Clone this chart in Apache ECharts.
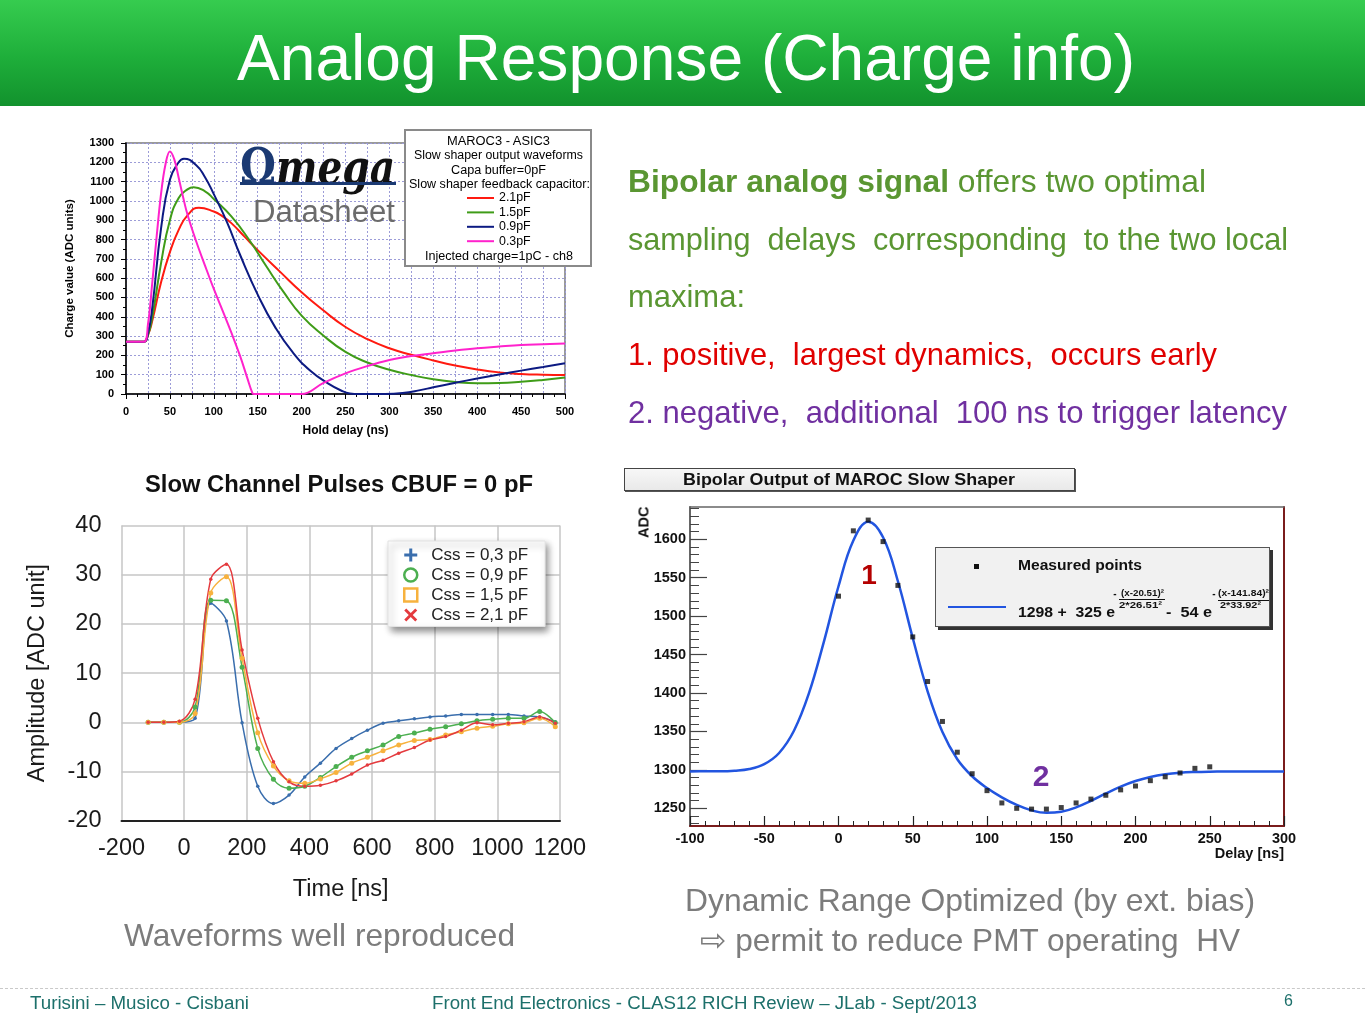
<!DOCTYPE html>
<html><head><meta charset="utf-8">
<script src="https://cdn.jsdelivr.net/npm/echarts@6/dist/echarts.min.js"></script>
<style>
html,body{margin:0;padding:0;background:#fff;}
#page{position:relative;width:1365px;height:1024px;overflow:hidden;background:#fff;font-family:"Liberation Sans",Arial,sans-serif;}
#chart{position:absolute;left:0;top:0;width:1365px;height:1024px;}
.t{position:absolute;white-space:nowrap;}
#band{position:absolute;left:0;top:0;width:1365px;height:106px;background:linear-gradient(#36cc4f,#1eae3a 55%,#12922d);}
.box{position:absolute;box-sizing:border-box;}
</style></head><body><div id="page"><div id="band"></div><div id="chart"></div></div>
<script>
// ---------- Chart 1 data (MAROC3 datasheet) : [hold delay ns, ADC] ----------
const pf21 = [[0,270],[20,270],[25,305],[30,380],[40,580],[50,735],[60,850],[70,925],[83,965],[100,945],[110,920],[120,885],[135,815],[150,745],[175,635],[200,527],[225,432],[250,347],[275,284],[300,237],[325,203],[350,174],[375,148],[400,127],[425,112],[450,104],[475,100],[500,98]];
const pf15 = [[0,270],[20,270],[25,305],[30,400],[40,680],[50,900],[60,1015],[70,1060],[77,1071],[90,1050],[100,1010],[120,920],[140,800],[160,660],[180,525],[200,406],[225,302],[250,218],[275,163],[300,126],[325,98],[350,76],[375,62],[400,56],[425,57],[450,63],[475,73],[500,86]];
const pf09 = [[0,270],[20,270],[25,315],[30,450],[40,860],[50,1110],[60,1200],[66,1218],[80,1185],[90,1123],[100,1035],[115,890],[130,720],[150,515],[170,345],[190,215],[210,120],[230,55],[245,18],[255,3],[265,0],[295,0],[315,5],[335,20],[350,35],[375,58],[400,80],[425,101],[450,121],[475,140],[500,159]];
const pf03 = [[0,270],[20,270],[25,360],[30,580],[35,820],[40,1040],[45,1190],[50,1256],[55,1215],[60,1120],[65,1020],[70,930],[80,790],[90,665],[100,544],[110,432],[120,318],[130,196],[138,85],[144,5],[146,0],[170,0],[200,0],[225,58],[250,107],[275,145],[300,176],[325,197],[350,211],[375,225],[400,237],[425,246],[450,254],[475,258],[500,262]];
const names1 = ['2.1pF','1.5pF','0.9pF','0.3pF'];

// ---------- Chart 2 data (Slow channel pulses) ----------
const time2 = [-115,-65,-15,35,85,135,185,235,285,335,385,435,485,535,585,635,685,735,785,835,885,935,985,1035,1085,1135,1185];
const css03 = [0,0,0,0.8,24.2,20.6,-0.1,-13.0,-16.5,-14.8,-11.1,-8.3,-5.3,-3.3,-1.6,-0.2,0.3,0.7,1.1,1.3,1.6,1.6,1.6,1.6,1.3,1.1,0.1];
const css09 = [0,0,0,3.1,24.8,24.7,11.2,-5.3,-11.6,-13.4,-13.0,-11.2,-9.0,-7.1,-5.8,-4.6,-2.9,-2.2,-1.4,-0.9,-0.3,0.3,0.6,0.8,0.8,2.2,-0.1];
const css15 = [0,0,0,1.8,26.3,29.6,13.0,-2.1,-8.9,-11.9,-12.4,-11.5,-10.2,-8.3,-7.1,-5.8,-4.6,-3.7,-3.5,-2.6,-1.9,-1.2,-0.8,-0.3,-0.1,0.8,-0.9];
const css21 = [0,0,0.2,4.7,29.1,32.1,14.7,0.8,-8.0,-12.1,-13.0,-12.8,-11.9,-10.5,-8.7,-7.7,-6.3,-5.1,-3.6,-2.9,-1.6,-0.1,-0.5,-0.2,0.1,1.1,-0.2];
const names2 = ['Css = 0,3 pF','Css = 0,9 pF','Css = 1,5 pF','Css = 2,1 pF'];

// ---------- Chart 3 data (Bipolar output) ----------
const delayPts = [0,10,20,30,40,50,60,70,80,90,100,110,120,130,140,150,160,170,180,190,200,210,220,230,240,250];
const adcPts = [1526,1611,1625,1597,1540,1473,1415,1363,1323,1295,1273,1257,1250,1249,1249,1251,1257,1262,1267,1274,1279,1286,1291,1296,1302,1304];
const delayFit = [-100,-90,-80,-70,-60,-50,-40,-30,-20,-10,0,10,20,30,40,50,60,70,80,90,100,110,120,130,140,150,160,170,180,190,200,210,220,230,240,250,260,270,280,290,300];
const adcFit = [1298.0,1298.1,1298.2,1299.0,1301.2,1307.5,1322.0,1350.9,1399.1,1465.6,1538.9,1598.4,1622.9,1602.6,1545.4,1471.6,1402.3,1349.2,1313.9,1291.7,1276.4,1264.3,1254.4,1247.3,1244.1,1245.5,1251.2,1259.7,1269.3,1278.3,1285.6,1290.8,1294.2,1296.2,1297.2,1297.7,1297.9,1298.0,1298.0,1298.0,1298.0];
const adcTicks = [1250,1300,1350,1400,1450,1500,1550,1600];
const adcMinor = [1230,1240,1260,1270,1280,1290,1310,1320,1330,1340,1360,1370,1380,1390,1410,1420,1430,1440,1460,1470,1480,1490,1510,1520,1530,1540,1560,1570,1580,1590,1610,1620,1630,1640];

const FF = '"Liberation Sans", Arial, sans-serif';
const zip = (xs, ys) => xs.map((x, i) => [x, ys[i]]);
const plain = v => String(v);

const c1 = ['#ff1a10', '#3f9c18', '#0c1a82', '#ff22cc'];
const c2 = ['#3a6ead', '#4caf50', '#f7b23e', '#e43a3e'];

const chart = echarts.init(document.getElementById('chart'));
chart.setOption({
  animation: false,
  backgroundColor: 'transparent',
  textStyle: {fontFamily: FF},
  grid: [
    {left: 126, top: 143, width: 439, height: 251, show: true, borderColor: '#9a9a9a', borderWidth: 2, backgroundColor: 'transparent'},
    {left: 121.5, top: 525.5, width: 438.5, height: 295.2},
    {left: 690, top: 507, width: 594, height: 319}
  ],
  xAxis: [
    {gridIndex: 0, type: 'value', min: 0, max: 500, interval: 25,
     axisLine: {show: true, onZero: false, lineStyle: {color: '#000', width: 1.5}},
     axisTick: {show: true, length: 5, lineStyle: {color: '#000'}},
     minorTick: {show: true, splitNumber: 2, length: 3, lineStyle: {color: '#000'}},
     axisLabel: {formatter: v => (v % 50 === 0 ? String(v) : ''), fontSize: 11, fontWeight: 'bold', color: '#000', margin: 12},
     splitLine: {show: true, lineStyle: {color: '#9c9cd8', type: [2, 2], width: 1}},
     name: 'Hold delay (ns)', nameLocation: 'middle', nameGap: 31,
     nameTextStyle: {fontSize: 12, fontWeight: 'bold', color: '#000'}},
    {gridIndex: 1, type: 'value', min: -200, max: 1200, interval: 200,
     axisLine: {show: true, onZero: false, lineStyle: {color: '#222', width: 2}},
     axisTick: {show: false},
     axisLabel: {formatter: plain, fontSize: 23.5, color: '#1a1a1a', margin: 16},
     splitLine: {show: true, lineStyle: {color: '#c6c6c6', width: 1.5}},
     name: 'Time [ns]', nameLocation: 'middle', nameGap: 57,
     nameTextStyle: {fontSize: 23.5, color: '#1a1a1a'}},
    {gridIndex: 2, type: 'value', min: -100, max: 300, interval: 50,
     axisLine: {show: true, onZero: false, lineStyle: {color: '#7a1c1c', width: 2}},
     axisTick: {show: true, inside: true, length: 10, lineStyle: {color: '#222', width: 1.2}},
     minorTick: {show: true, splitNumber: 5, length: 5, lineStyle: {color: '#222'}},
     axisLabel: {formatter: plain, fontSize: 14.5, fontWeight: 'bold', color: '#111', margin: 5},
     splitLine: {show: false},
     name: 'Delay [ns]', nameLocation: 'end', nameGap: 0,
     nameTextStyle: {align: 'right', verticalAlign: 'top', padding: [20, 0, 0, 0], fontSize: 14.5, fontWeight: 'bold', color: '#111'}},
    {gridIndex: 2, type: 'value', position: 'top', min: -100, max: 300,
     axisLine: {show: true, onZero: false, lineStyle: {color: '#666', width: 1.5}},
     axisTick: {show: false}, axisLabel: {show: false}, splitLine: {show: false}}
  ],
  yAxis: [
    {gridIndex: 0, type: 'value', min: 0, max: 1300, interval: 100,
     axisLine: {show: true, onZero: false, lineStyle: {color: '#000', width: 1.5}},
     axisTick: {show: true, length: 5, lineStyle: {color: '#000'}},
     minorTick: {show: true, splitNumber: 2, length: 3, lineStyle: {color: '#000'}},
     axisLabel: {formatter: plain, fontSize: 11, fontWeight: 'bold', color: '#000', margin: 12},
     splitLine: {show: true, lineStyle: {color: '#9c9cd8', type: [2, 2], width: 1}},
     name: 'Charge value (ADC units)', nameLocation: 'middle', nameRotate: 90, nameGap: 50,
     nameTextStyle: {fontSize: 11.5, fontWeight: 'bold', color: '#000'}},
    {gridIndex: 1, type: 'value', min: -20, max: 40, interval: 10,
     axisLine: {show: false, onZero: false}, axisTick: {show: false},
     axisLabel: {formatter: plain, fontSize: 23.5, color: '#1a1a1a', margin: 20},
     splitLine: {show: true, lineStyle: {color: '#c6c6c6', width: 1.5}},
     name: 'Amplitude [ADC unit]', nameLocation: 'middle', nameRotate: 90, nameGap: 72,
     nameTextStyle: {fontSize: 23.5, color: '#1a1a1a'}},
    {gridIndex: 2, type: 'value', position: 'left', min: 1227, max: 1642,
     axisLine: {show: true, onZero: false, lineStyle: {color: '#666', width: 2}},
     axisTick: {show: true, inside: true, length: 17, customValues: adcTicks, lineStyle: {color: '#444', width: 1.2}},
     axisLabel: {customValues: adcTicks, formatter: plain, fontSize: 14.5, fontWeight: 'bold', color: '#111', margin: 4},
     splitLine: {show: false}},
    {gridIndex: 2, type: 'value', position: 'left', min: 1227, max: 1642,
     axisLine: {show: false, onZero: false},
     axisTick: {show: true, inside: true, length: 9, customValues: adcMinor, lineStyle: {color: '#444'}},
     axisLabel: {show: false}, splitLine: {show: false}},
    {gridIndex: 2, type: 'value', position: 'right', min: 1227, max: 1642,
     axisLine: {show: true, onZero: false, lineStyle: {color: '#7a1c1c', width: 2}},
     axisTick: {show: false}, axisLabel: {show: false}, splitLine: {show: false}}
  ],
  legend: [
    {data: names1, orient: 'vertical', left: 467, top: 191.8, padding: 0, itemWidth: 27, itemHeight: 2, itemGap: 2,
     icon: 'rect', selectedMode: false, z: 10,
     textStyle: {fontSize: 12.4, lineHeight: 12.4, color: '#000', fontFamily: FF}},
    {data: [
       {name: names2[0], icon: 'path://M5,0H8V5H13V8H8V13H5V8H0V5H5Z', itemStyle: {color: c2[0], borderWidth: 0}},
       {name: names2[1], icon: 'circle', itemStyle: {color: '#fff', borderColor: c2[1], borderWidth: 2.5}},
       {name: names2[2], icon: 'rect', itemStyle: {color: '#fff', borderColor: c2[2], borderWidth: 2.5}},
       {name: names2[3], icon: 'path://M2,0L6.5,4.5L11,0L13,2L8.5,6.5L13,11L11,13L6.5,8.5L2,13L0,11L4.5,6.5L0,2Z', itemStyle: {color: c2[3], borderWidth: 0}}
     ],
     orient: 'vertical', left: 388, top: 541, padding: [5.5, 17, 3, 15], itemWidth: 13, itemHeight: 13, itemGap: 3,
     selectedMode: false, z: 10, backgroundColor: '#fff', borderColor: '#e2e2e2', borderWidth: 1,
     shadowBlur: 7, shadowColor: 'rgba(0,0,0,0.45)', shadowOffsetX: 3, shadowOffsetY: 4,
     formatter: n => '{g|}' + n,
     textStyle: {fontSize: 17, lineHeight: 17, color: '#222', fontFamily: FF, rich: {g: {width: 9}}}}
  ],
  graphic: {elements: [
    {type: 'rect', z: 5, shape: {x: 405, y: 130, width: 186, height: 136},
     style: {fill: '#fff', stroke: '#8a8a8a', lineWidth: 2}}
  ]},
  series: [
    {name: names1[0], type: 'line', xAxisIndex: 0, yAxisIndex: 0, data: pf21, showSymbol: false, smooth: 0.5, color: c1[0], lineStyle: {width: 2}},
    {name: names1[1], type: 'line', xAxisIndex: 0, yAxisIndex: 0, data: pf15, showSymbol: false, smooth: 0.5, color: c1[1], lineStyle: {width: 2}},
    {name: names1[2], type: 'line', xAxisIndex: 0, yAxisIndex: 0, data: pf09, showSymbol: false, smooth: 0.5, color: c1[2], lineStyle: {width: 2}},
    {name: names1[3], type: 'line', xAxisIndex: 0, yAxisIndex: 0, data: pf03, showSymbol: false, smooth: 0.4, color: c1[3], lineStyle: {width: 2}},
    {name: names2[0], type: 'line', xAxisIndex: 1, yAxisIndex: 1, data: zip(time2, css03), smooth: 0.35, symbol: 'circle', symbolSize: 3.5, color: c2[0], lineStyle: {width: 1.5}},
    {name: names2[1], type: 'line', xAxisIndex: 1, yAxisIndex: 1, data: zip(time2, css09), smooth: 0.35, symbol: 'circle', symbolSize: 5, color: c2[1], lineStyle: {width: 1.5}},
    {name: names2[2], type: 'line', xAxisIndex: 1, yAxisIndex: 1, data: zip(time2, css15), smooth: 0.35, symbol: 'circle', symbolSize: 5, color: c2[2], lineStyle: {width: 1.5}},
    {name: names2[3], type: 'line', xAxisIndex: 1, yAxisIndex: 1, data: zip(time2, css21), smooth: 0.35, symbol: 'circle', symbolSize: 3.5, color: c2[3], lineStyle: {width: 1.5}},
    {name: 'Fit', type: 'line', xAxisIndex: 2, yAxisIndex: 2, data: zip(delayFit, adcFit), smooth: 0.4, showSymbol: false, color: '#2255e0', lineStyle: {width: 2.5}},
    {name: 'Measured points', type: 'scatter', xAxisIndex: 2, yAxisIndex: 2, data: zip(delayPts, adcPts), symbol: 'rect', symbolSize: 5, color: '#111', z: 5}
  ]
});

// ---------- Text overlays ----------
const page = document.getElementById('page');
function txt(html, o) {
  const d = document.createElement('div');
  d.className = 't';
  d.innerHTML = html;
  d.style.fontSize = o.fs + 'px';
  d.style.lineHeight = o.fs + 'px';
  d.style.color = o.color || '#000';
  if (o.bold) d.style.fontWeight = 'bold';
  if (o.italic) d.style.fontStyle = 'italic';
  if (o.family) d.style.fontFamily = o.family;
  page.appendChild(d);
  const w = d.getBoundingClientRect().width;
  const sx = o.w ? o.w / w : 1;
  const W = w * sx;
  let left = o.x;
  if (o.cx !== undefined) left = o.cx - W / 2;
  if (o.rx !== undefined) left = o.rx - W;
  d.style.left = left + 'px';
  d.style.top = (o.cy - o.fs * 0.49) + 'px';
  d.style.transformOrigin = '0 0';
  d.style.transform = 'scaleX(' + sx + ')';
  return d;
}
function box(x, y, w, h, css) {
  const d = document.createElement('div');
  d.className = 'box';
  d.style.left = x + 'px'; d.style.top = y + 'px';
  d.style.width = w + 'px'; d.style.height = h + 'px';
  Object.assign(d.style, css || {});
  page.appendChild(d);
  return d;
}

// Title
txt('Analog Response (Charge info)', {cx: 686, cy: 57, fs: 64, w: 898, color: '#fff'});

// Right text block
const GREEN = '#5a9632';
txt('<b>Bipolar analog signal</b> offers two optimal', {x: 628, cy: 181, fs: 31.5, w: 578, color: GREEN});
txt('sampling&nbsp; delays&nbsp; corresponding&nbsp; to the two local', {x: 628, cy: 239, fs: 31.5, w: 660, color: GREEN});
txt('maxima:', {x: 628, cy: 296, fs: 31.5, w: 117, color: GREEN});
txt('1. positive,&nbsp; largest dynamics,&nbsp; occurs early', {x: 628, cy: 354, fs: 31.5, w: 589, color: '#e00000'});
txt('2. negative,&nbsp; additional&nbsp; 100 ns to trigger latency', {x: 628, cy: 412, fs: 31.5, w: 659, color: '#7030a0'});

// Captions
const GRAY = '#7c7c7c';
txt('Waveforms well reproduced', {x: 124, cy: 935, fs: 31.5, w: 391, color: GRAY});
txt('Dynamic Range Optimized (by ext. bias)', {x: 685, cy: 900, fs: 31.5, w: 570, color: GRAY});
txt('<span style="font-family:DejaVu Sans">&#x21E8;</span> permit to reduce PMT operating&nbsp; HV', {x: 700, cy: 940, fs: 31.5, w: 540, color: GRAY});

// Footer
box(0, 988, 1365, 1, {borderTop: '1px dashed #c9c9c9'});
const TEAL = '#1d706b';
txt('Turisini \u2013 Musico - Cisbani', {x: 30, cy: 1003, fs: 18, w: 219, color: TEAL});
txt('Front End Electronics - CLAS12 RICH Review \u2013 JLab - Sept/2013', {x: 432, cy: 1003, fs: 18, w: 545, color: TEAL});
txt('6', {x: 1284, cy: 1001, fs: 16, color: TEAL});

// Chart 1 logo + legend header
txt('\u03A9', {x: 240, cy: 166, fs: 50, w: 36, color: '#1b3a73', bold: true, family: '"DejaVu Serif", serif'});
txt('mega', {x: 276, cy: 167, fs: 48, w: 119, color: '#111', bold: true, italic: true, family: '"DejaVu Serif", serif'});
box(240, 181.5, 156, 3, {background: '#1b3a73'});
txt('Datasheet', {x: 253, cy: 211, fs: 31, w: 142, color: '#6b6b6b'});
txt('MAROC3 - ASIC3', {cx: 498, cy: 141, fs: 12.3, w: 103});
txt('Slow shaper output waveforms', {cx: 498, cy: 155.5, fs: 12.3, w: 169});
txt('Capa buffer=0pF', {cx: 498, cy: 170, fs: 12.3, w: 95});
txt('Slow shaper feedback capacitor:', {cx: 499.5, cy: 184, fs: 12.3, w: 181});
txt('Injected charge=1pC - ch8', {cx: 499, cy: 256, fs: 12.3, w: 148});

// Chart 2 title
txt('Slow Channel Pulses CBUF = 0 pF', {cx: 339, cy: 484, fs: 23, w: 388, bold: true, color: '#111'});

// Chart 3 title box
box(624, 468, 451, 23, {border: '1px solid #444', background: 'linear-gradient(#f7f7f7,#e9e9e9)', boxShadow: '1px 1px 0 #555'});
txt('Bipolar Output of MAROC Slow Shaper', {cx: 849, cy: 479.5, fs: 17, w: 332, bold: true, color: '#111'});
// ADC axis title (rotated)
(function () {
  const d = document.createElement('div');
  d.className = 't';
  d.textContent = 'ADC';
  d.style.fontSize = '14.5px'; d.style.lineHeight = '14.5px'; d.style.fontWeight = 'bold'; d.style.color = '#111';
  page.appendChild(d);
  const r = d.getBoundingClientRect();
  d.style.left = (644 - r.width / 2) + 'px';
  d.style.top = (522.5 - r.height / 2) + 'px';
  d.style.transformOrigin = '50% 50%';
  d.style.transform = 'rotate(-90deg)';
})();
// Peak labels
txt('1', {cx: 869, cy: 575, fs: 28, bold: true, color: '#b40000'});
txt('2', {cx: 1041, cy: 776, fs: 30, bold: true, color: '#7030a0'});
// Chart 3 legend
box(935, 547, 335, 80, {border: '1px solid #555', background: '#f1f1f1', boxShadow: '3px 3px 0 #333'});
box(974, 563.5, 5, 5, {background: '#111'});
txt('Measured points', {x: 1018, cy: 565, fs: 15.5, w: 124, bold: true, color: '#111'});
box(948, 605.5, 58, 2.5, {background: '#2255e0'});
txt('1298 +&nbsp; 325 e', {x: 1018, cy: 612, fs: 15.5, w: 97, bold: true, color: '#111'});
txt('-', {cx: 1115, cy: 594, fs: 10, bold: true, color: '#111'});
txt('(x-20.51)\u00B2', {cx: 1142, cy: 593, fs: 9.5, w: 43, bold: true, color: '#111'});
box(1119, 599, 46, 1, {background: '#111'});
txt('2*26.51\u00B2', {cx: 1140, cy: 605, fs: 9.5, w: 43, bold: true, color: '#111'});
txt('-&nbsp; 54 e', {x: 1166, cy: 612, fs: 15.5, w: 46, bold: true, color: '#111'});
txt('-', {cx: 1214, cy: 594, fs: 10, bold: true, color: '#111'});
txt('(x-141.84)\u00B2', {cx: 1243, cy: 593, fs: 9.5, w: 51, bold: true, color: '#111'});
box(1218, 600, 51, 1, {background: '#111'});
txt('2*33.92\u00B2', {cx: 1240, cy: 605, fs: 9.5, w: 41, bold: true, color: '#111'});
</script></body></html>
